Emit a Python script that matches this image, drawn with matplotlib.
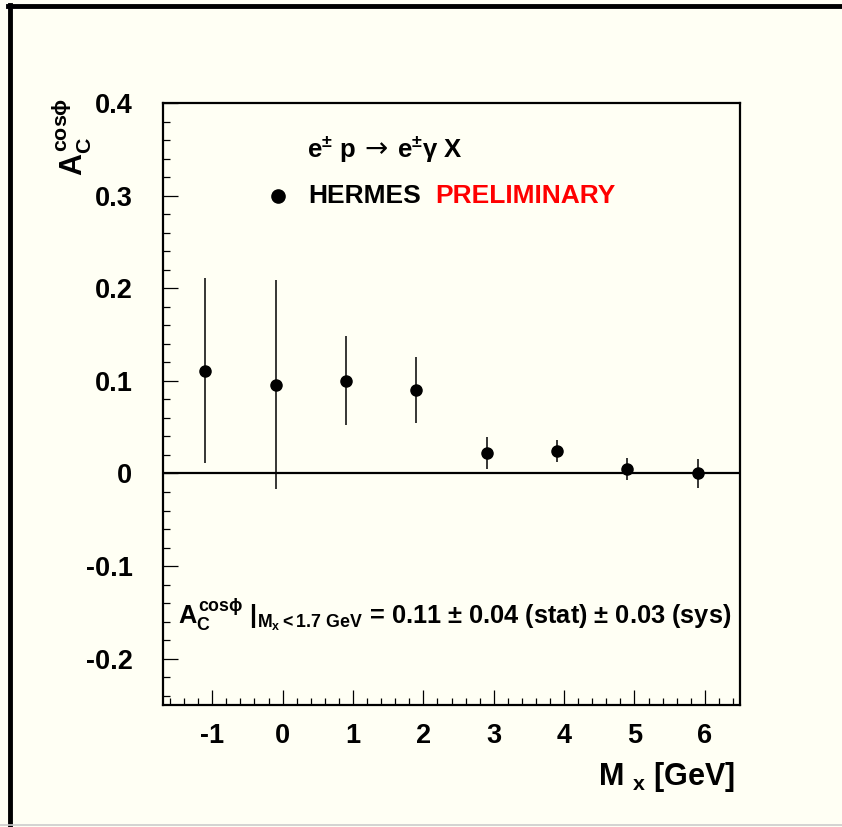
import matplotlib
matplotlib.use("Agg")
import matplotlib.pyplot as plt
from matplotlib.lines import Line2D
from matplotlib.ticker import MultipleLocator

# 数据
mx = [-1.1, -0.1, 0.9, 1.9, 2.9, 3.9, 4.9, 5.9]
acos = [0.111, 0.096, 0.100, 0.090, 0.022, 0.024, 0.005, 0.000]
err = [0.100, 0.113, 0.048, 0.036, 0.017, 0.012, 0.012, 0.016]
xticks = [-1, 0, 1, 2, 3, 4, 5, 6]
yticks = [-0.2, -0.1, 0.0, 0.1, 0.2, 0.3, 0.4]
ytick_labels = ["-0.2", "-0.1", "0", "0.1", "0.2", "0.3", "0.4"]

bg = "#fffff4"
plt.rcParams["font.family"] = ["Liberation Sans", "DejaVu Sans"]
plt.rcParams["font.weight"] = "bold"
plt.rcParams["mathtext.fontset"] = "custom"
plt.rcParams["mathtext.rm"] = "Liberation Sans:bold"
plt.rcParams["mathtext.it"] = "Liberation Sans:bold"
plt.rcParams["mathtext.bf"] = "Liberation Sans:bold"
plt.rcParams["mathtext.sf"] = "Liberation Sans:bold"

fig = plt.figure(figsize=(8.42, 8.27), dpi=100, facecolor=bg)
ax = fig.add_axes([163 / 842, 1 - 705 / 827, 577 / 842, 602 / 827], facecolor=bg)

# 外框
fig.add_artist(Line2D([8 / 842, 1], [1 - 6 / 827, 1 - 6 / 827], color="black", lw=3.5))
fig.add_artist(Line2D([9.5 / 842, 9.5 / 842], [0, 1 - 5 / 827], color="black", lw=3.5))
fig.add_artist(Line2D([0, 1], [2 / 827, 2 / 827], color="#cccccc", lw=1.2))

# 数据点
ax.axhline(0, color="black", lw=1.6, zorder=1)
ax.errorbar(mx, acos, yerr=err, fmt="o", color="black", ms=8, elinewidth=1.1,
            capsize=0, zorder=3)

ax.set_xlim(-1.7, 6.5)
ax.set_ylim(-0.25, 0.4)
ax.set_xticks(xticks)
ax.set_xticklabels([str(t) for t in xticks])
ax.set_yticks(yticks)
ax.set_yticklabels(ytick_labels)
ax.xaxis.set_minor_locator(MultipleLocator(0.2))
ax.yaxis.set_minor_locator(MultipleLocator(0.02))
ax.tick_params(which="both", direction="in", top=False, right=False, width=0.9)
ax.tick_params(which="major", length=11, labelsize=19.5)
ax.tick_params(which="minor", length=5)
ax.tick_params(axis="y", which="major", pad=22)
ax.tick_params(axis="x", which="major", pad=13)
for s in ax.spines.values():
    s.set_linewidth(1.6)

# 坐标轴标题
ax.text(0.991, -0.133, r"M $_{x}$ [GeV]", transform=ax.transAxes, ha="right",
        va="baseline", fontsize=22)
ax.text(-0.158, 1.008, r"$A_C^{cos\phi}$", transform=ax.transAxes, ha="center",
        va="top", rotation=90, fontsize=22)

# 图例与文字
ax.text(0.2496, 0.910, r"e$^{\pm}$ p", transform=ax.transAxes, ha="left",
        va="baseline", fontsize=18.5)
ax.text(0.3495, 0.910, "→", transform=ax.transAxes, ha="left", va="baseline",
        fontsize=20, family="DejaVu Sans", fontweight="normal")
ax.text(0.406, 0.910, r"e$^{\pm}\gamma$ X", transform=ax.transAxes, ha="left",
        va="baseline", fontsize=18.5)
ax.plot([0.2], [0.8455], "o", color="black", ms=9.5, transform=ax.transAxes)
ax.text(0.252, 0.8334, "HERMES", transform=ax.transAxes, ha="left",
        va="baseline", fontsize=19)
ax.text(0.471, 0.8334, "PRELIMINARY", transform=ax.transAxes, ha="left",
        va="baseline", fontsize=19, color="#ff0000")
ax.text(0.026, 0.1346,
        r"$A_C^{cos\phi}$ $|_{M_x < 1.7\ GeV}$ = 0.11 $\pm$ 0.04 (stat) $\pm$ 0.03 (sys)",
        transform=ax.transAxes, ha="left", va="baseline", fontsize=18.3)

fig.savefig("out.png", dpi=100, facecolor=bg)
